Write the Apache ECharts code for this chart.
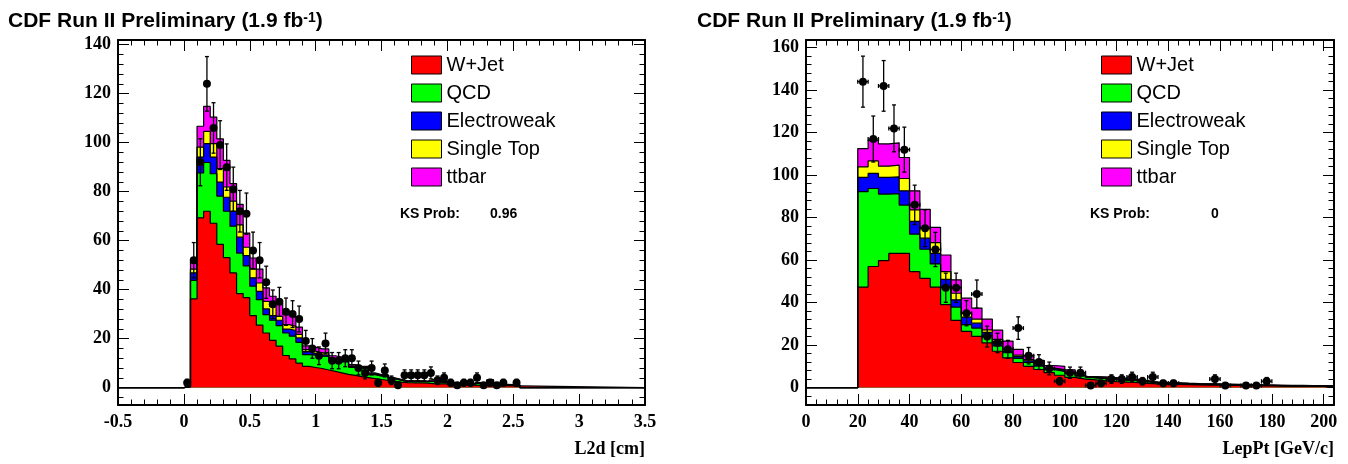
<!DOCTYPE html>
<html><head><meta charset="utf-8">
<script src="https://cdn.jsdelivr.net/npm/echarts@6/dist/echarts.min.js"></script>
<style>html,body{margin:0;padding:0;background:#fff}#c{width:1348px;height:464px}</style>
</head><body><div id="c"></div>
<script>
// ================= DATA =================
const seriesNames = ['W+Jet', 'QCD', 'Electroweak', 'Single Top', 'ttbar'];
const seriesColors = ['#ff0000', '#00ff00', '#0000ff', '#ffff00', '#ff00ff'];

// ---- Left panel: L2d [cm], bins of 0.05 cm starting at 0 ----
const l2dBinStart = 0;
const l2dBinWidth = 0.05;
const l2dWJet = [0.3,36.2,69.3,72.0,67.1,58.5,53.1,46.8,38.4,36.7,29.4,25.5,22.3,19.3,16.9,13.1,11.7,10.0,8.7,8.2,7.8,7.2,6.6,6.0,5.4,5.0,4.5,4.1,3.7,3.3,3.0,2.6,2.2,2.0,1.9,1.9,1.8,1.6,1.5,1.5,1.4,1.0,1.0,1.0,0.9,0.9,1.8,0.8,0.8,0.7,0.7];
const l2dQCD  = [0.1,7.6,18.3,19.9,20.2,19.7,18.9,19.1,16.5,13.0,12.0,10.4,7.5,8.2,8.4,9.2,9.3,8.5,4.8,5.0,5.0,5.5,4.4,4.5,5.2,3.3,3.3,3.6,1.6,1.4,1.7,1.0,0.8,0.5,0.6,0.6,0.6,1.0,0.8,0.6,0.4,0.3,0.3,0.4,1.0,0.3,1.2,0.3,0.3,0.3,0.2];
const l2dEWK  = [0.05,3.0,6.5,7.7,6.8,5.7,5.7,6.1,6.5,4.2,3.4,3.4,2.3,1.9,2.2,1.6,2.3,1.8,1.2,0.8,0.6,0.6,0.5,0.4,0.4,0.3,0.2,0.3,0.2,0.2,0.2,0.1,0.1,0.05,0.05,0.05,0.05,0.05,0.05,0.05,0.05,0.05,0.05,0.05,0.05,0.05,0.05,0.05,0.05,0.05,0.05];
const l2dSTop = [0.05,1.6,4.1,5.0,5.5,5.5,4.2,4.1,5.0,3.4,3.6,3.4,3.1,3.8,1.6,1.8,1.7,1.4,0.8,0.9,0.8,1.0,0.5,0.6,0.5,0.2,0.2,0.2,0.1,0.1,0.1,0.1,0.05,0.05,0.05,0.05,0.05,0.05,0.05,0.05,0.05,0.05,0.05,0.05,0.05,0.05,0.05,0.05,0.05,0.05,0.05];
const l2dTTbar= [0.1,3.1,8.5,10.2,10.8,12.1,10.9,7.2,8.4,5.8,4.5,5.7,5.5,4.1,5.4,4.1,4.1,3.0,1.5,1.6,1.6,1.5,1.0,1.0,1.0,0.6,0.5,0.5,0.4,0.3,0.3,0.2,0.2,0.15,0.15,0.2,0.2,0.7,0.2,0.2,0.2,0.1,0.1,0.1,0.1,0.1,0.1,0.1,0.1,0.1,0.1];
const l2dData = [2,52,92,124,106,99,90,81,72,71,56,52,43,34,35,31,30,28,19,16,13,18,11,11,12,12,8,6,8,2,7,3,1,5,5,5,5,6,3,4,2,1,2,2,4,1,2,1,2,0,2];
const l2dXRange = [-0.5, 3.5];
const l2dYRange = [-7.1, 141.9];
const l2dXTicks = [-0.5, 0, 0.5, 1, 1.5, 2, 2.5, 3, 3.5];
const l2dYTicks = [0, 20, 40, 60, 80, 100, 120, 140];
const l2dXMinorStep = 0.1;
const l2dYMinorStep = 4;
const l2dKS = '0.96';
const l2dTitle = 'L2d [cm]';

// ---- Right panel: LepPt [GeV/c], bins of 4 GeV starting at 20 ----
const ptBinStart = 20;
const ptBinWidth = 4;
const ptWJet = [47.3,57.0,59.8,63.2,63.2,54.6,51.4,47.3,39.0,31.6,26.5,24.1,21.0,17.1,14.0,11.8,10.0,8.5,7.0,5.8,4.8,4.0,3.6,3.2,2.8,2.6,2.4,2.0,1.7,1.6,1.5,1.4,1.3,1.2,1.1,1.0,1.0,0.9,0.8,0.8,0.7,0.6,0.6,0.6,0.5,0.5];
const ptQCD  = [44.9,36.7,31.3,28.1,22.7,17.6,13.7,10.9,8.3,6.3,3.1,3.9,3.1,2.5,2.4,1.9,1.8,1.6,1.4,1.8,1.8,1.4,0.9,1.0,1.0,0.9,0.9,0.7,0.5,0.4,0.4,0.3,0.3,0.3,0.3,0.3,0.2,0.2,0.2,0.2,0.2,0.2,0.2,0.1,0.2,0.1];
const ptEWK  = [6.7,7.1,7.8,7.9,6.7,6.0,5.2,5.0,3.6,3.4,3.6,2.3,1.9,2.3,0.8,0.9,0.8,0.6,0.5,0.6,0.4,0.3,0.2,0.2,0.2,0.2,0.2,0.2,0.1,0.1,0.1,0.1,0.05,0.05,0.05,0.05,0.05,0.05,0.05,0.05,0.05,0.05,0.05,0.05,0.05,0.05];
const ptSTop = [5.0,5.9,5.3,5.5,5.8,5.4,4.7,5.0,3.7,3.1,1.9,1.9,1.2,0.8,0.8,0.7,0.6,0.5,0.3,0.3,0.2,0.2,0.1,0.1,0.1,0.1,0.1,0.1,0.1,0.05,0.05,0.05,0.05,0.05,0.05,0.05,0.05,0.05,0.05,0.05,0.05,0.05,0.05,0.05,0.05,0.05];
const ptTTbar= [8.6,9.7,10.5,10.5,9.9,9.0,8.9,7.2,7.8,6.3,7.0,5.2,5.0,4.3,3.9,2.7,2.0,1.6,1.2,1.5,1.2,0.9,0.4,0.5,0.5,0.4,0.4,0.3,0.2,0.2,0.2,0.2,0.2,0.2,0.2,0.2,0.2,0.2,0.2,0.1,0.1,0.1,0.1,0.1,0.1,0.1];
const ptData = [144,117,142,122,112,86,75,65,47,47,35,44,24,21,18,28,15,12,9,3,7,7,1,2,4,4,5,3,5,2,2,0,0,0,4,1,0,1,1,3,0,0,0,0,0,0];
const ptXRange = [0, 204];
const ptYRange = [-8.2, 163.6];
const ptXTicks = [0, 20, 40, 60, 80, 100, 120, 140, 160, 180, 200];
const ptYTicks = [0, 20, 40, 60, 80, 100, 120, 140, 160];
const ptXMinorStep = 4;
const ptYMinorStep = 4;
const ptKS = '0';
const ptTitle = 'LepPt [GeV/c]';

const plotTitle = ['CDF Run II Preliminary (1.9 fb', '-1', ')'];
const ksLabel = 'KS Prob:';

// ================= HELPERS =================
const rnd = v => Math.round(v * 1e6) / 1e6;
function minorTicks(range, step, majors) {
  const out = [];
  const k0 = Math.ceil(range[0] / step - 1e-9), k1 = Math.floor(range[1] / step + 1e-9);
  for (let k = k0; k <= k1; k++) {
    const v = rnd(k * step);
    if (!majors.some(m => Math.abs(m - v) < 1e-9)) out.push(v);
  }
  return out;
}
function stepPoints(start, width, vals, range) {
  const pts = [[range[0], 0]];
  for (let k = 0; k < vals.length; k++) pts.push([rnd(start + k * width), vals[k]]);
  pts.push([rnd(start + vals.length * width), 0]);
  pts.push([range[1], 0]);
  return pts;
}
function cumulative(layers) {
  const out = []; let acc = layers[0].map(() => 0);
  layers.forEach(l => { acc = acc.map((a, i) => rnd(a + l[i])); out.push(acc.slice()); });
  return out;
}

const AX_FONT = { fontFamily: 'Liberation Serif', fontWeight: 'bold', fontSize: 18, color: '#000' };
function axesFor(gi, xr, yr, xMaj, yMaj, xMinStep, yMinStep) {
  const xMin = minorTicks(xr, xMinStep, xMaj);
  const yMin = minorTicks(yr, yMinStep, yMaj);
  const line = { show: true, onZero: false, lineStyle: { color: '#000', width: 2 } };
  const base = { type: 'value', gridIndex: gi, splitLine: { show: false } };
  const tk = (len, vals) => ({ show: true, inside: true, length: len, customValues: vals, lineStyle: { color: '#000', width: 1 } });
  const xs = [
    Object.assign({}, base, { min: xr[0], max: xr[1], position: 'bottom', axisLine: line, axisTick: tk(11, xMaj),
      axisLabel: Object.assign({ show: true, margin: 8, customValues: xMaj }, AX_FONT) }),
    Object.assign({}, base, { min: xr[0], max: xr[1], position: 'bottom', axisLine: { show: false, onZero: false }, axisTick: tk(5.5, xMin), axisLabel: { show: false } }),
    Object.assign({}, base, { min: xr[0], max: xr[1], position: 'top', axisLine: line, axisTick: tk(11, xMaj), axisLabel: { show: false } }),
    Object.assign({}, base, { min: xr[0], max: xr[1], position: 'top', axisLine: { show: false, onZero: false }, axisTick: tk(5.5, xMin), axisLabel: { show: false } })
  ];
  const ys = [
    Object.assign({}, base, { min: yr[0], max: yr[1], position: 'left', axisLine: line, axisTick: tk(11, yMaj),
      axisLabel: Object.assign({ show: true, margin: 7, customValues: yMaj }, AX_FONT) }),
    Object.assign({}, base, { min: yr[0], max: yr[1], position: 'left', axisLine: { show: false, onZero: false }, axisTick: tk(5.5, yMin), axisLabel: { show: false } }),
    Object.assign({}, base, { min: yr[0], max: yr[1], position: 'right', axisLine: line, axisTick: tk(11, yMaj), axisLabel: { show: false } }),
    Object.assign({}, base, { min: yr[0], max: yr[1], position: 'right', axisLine: { show: false, onZero: false }, axisTick: tk(5.5, yMin), axisLabel: { show: false } })
  ];
  return { xs, ys };
}

function stackSeries(axIdx, start, width, layers, range) {
  const cum = cumulative(layers);
  const out = [];
  for (let i = layers.length - 1; i >= 0; i--) {
    out.push({
      type: 'line', name: seriesNames[i], xAxisIndex: axIdx, yAxisIndex: axIdx,
      data: stepPoints(start, width, cum[i], range), step: 'end', showSymbol: false, symbol: 'none',
      itemStyle: { color: seriesColors[i] },
      lineStyle: { color: '#000', width: 1.2 },
      areaStyle: { color: seriesColors[i], opacity: 1, origin: 'auto' },
      silent: true, animation: false, z: 2
    });
  }
  return out;
}

function dataSeries(axIdx, start, width, counts, showXErr) {
  const pts = [];
  counts.forEach((n, k) => { if (n > 0) pts.push([rnd(start + (k + 0.5) * width), n, Math.sqrt(n), width / 2]); });
  return {
    type: 'custom', xAxisIndex: axIdx, yAxisIndex: axIdx, data: pts, z: 5, animation: false, silent: true,
    renderItem: function (params, api) {
      const x = api.value(0), y = api.value(1), e = api.value(2), hw = api.value(3);
      const c = api.coord([x, y]), t = api.coord([x, y + e]), b = api.coord([x, y - e]);
      const st = { stroke: '#000', lineWidth: 1.3 };
      const ch = [
        { type: 'line', shape: { x1: c[0], y1: t[1], x2: c[0], y2: b[1] }, style: st },
        { type: 'line', shape: { x1: c[0] - 2, y1: t[1], x2: c[0] + 2, y2: t[1] }, style: st },
        { type: 'line', shape: { x1: c[0] - 2, y1: b[1], x2: c[0] + 2, y2: b[1] }, style: st }
      ];
      if (showXErr) {
        const l = api.coord([x - hw, y]), r = api.coord([x + hw, y]);
        ch.push({ type: 'line', shape: { x1: l[0], y1: c[1], x2: r[0], y2: c[1] }, style: st });
        ch.push({ type: 'line', shape: { x1: l[0], y1: c[1] - 2, x2: l[0], y2: c[1] + 2 }, style: st });
        ch.push({ type: 'line', shape: { x1: r[0], y1: c[1] - 2, x2: r[0], y2: c[1] + 2 }, style: st });
      }
      ch.push({ type: 'circle', shape: { cx: c[0], cy: c[1], r: 4 }, style: { fill: '#000' } });
      return { type: 'group', children: ch };
    }
  };
}

// ================= CHART =================
const chart = echarts.init(document.getElementById('c'), null, { renderer: 'canvas' });
const L = axesFor(0, l2dXRange, l2dYRange, l2dXTicks, l2dYTicks, l2dXMinorStep, l2dYMinorStep);
const R = axesFor(1, ptXRange, ptYRange, ptXTicks, ptYTicks, ptXMinorStep, ptYMinorStep);
const legendData = seriesNames.map((n, i) => ({ name: n, icon: 'rect', itemStyle: { color: seriesColors[i], borderColor: '#000', borderWidth: 1 } }));
const legendBase = { orient: 'vertical', top: 55, itemWidth: 30, itemHeight: 18, itemGap: 8, padding: 0, selectedMode: false,
  textStyle: { fontFamily: 'Liberation Sans', fontSize: 20, color: '#000', padding: [0, 0, 0, 0] }, data: legendData };
const titleRich = { a: { fontFamily: 'Liberation Sans', fontWeight: 'bold', fontSize: 21, color: '#000' },
  s: { fontFamily: 'Liberation Sans', fontWeight: 'bold', fontSize: 14, color: '#000', verticalAlign: 'top' } };
const titleText = '{a|' + plotTitle[0] + '}{s|' + plotTitle[1] + '}{a|' + plotTitle[2] + '}';

chart.setOption({
  animation: false,
  backgroundColor: '#fff',
  title: [
    { left: 8, top: 11, padding: 0, text: titleText, textStyle: { rich: titleRich } },
    { left: 697, top: 11, padding: 0, text: titleText, textStyle: { rich: titleRich } }
  ],
  legend: [Object.assign({ left: 411 }, legendBase), Object.assign({ left: 1101 }, legendBase)],
  grid: [
    { left: 118, top: 40, width: 527, height: 365 },
    { left: 806, top: 40, width: 528, height: 365 }
  ],
  xAxis: L.xs.concat(R.xs.map(a => Object.assign(a, { gridIndex: 1 }))),
  yAxis: L.ys.concat(R.ys.map(a => Object.assign(a, { gridIndex: 1 }))),
  graphic: [
    { type: 'text', left: 400, top: 207, style: { text: ksLabel, font: 'bold 14px "Liberation Sans"', fill: '#000' } },
    { type: 'text', left: 490, top: 207, style: { text: l2dKS, font: 'bold 14px "Liberation Sans"', fill: '#000' } },
    { type: 'text', left: 1090, top: 207, style: { text: ksLabel, font: 'bold 14px "Liberation Sans"', fill: '#000' } },
    { type: 'text', left: 1211, top: 207, style: { text: ptKS, font: 'bold 14px "Liberation Sans"', fill: '#000' } },
    { type: 'text', right: 703, top: 440, style: { text: l2dTitle, font: 'bold 18px "Liberation Serif"', fill: '#000' } },
    { type: 'text', right: 14, top: 440, style: { text: ptTitle, font: 'bold 18px "Liberation Serif"', fill: '#000' } }
  ],
  series: [].concat(
    stackSeries(0, l2dBinStart, l2dBinWidth, [l2dWJet, l2dQCD, l2dEWK, l2dSTop, l2dTTbar], l2dXRange),
    [dataSeries(0, l2dBinStart, l2dBinWidth, l2dData, false)],
    stackSeries(4, ptBinStart, ptBinWidth, [ptWJet, ptQCD, ptEWK, ptSTop, ptTTbar], ptXRange),
    [dataSeries(4, ptBinStart, ptBinWidth, ptData, true)]
  )
});
</script></body></html>
